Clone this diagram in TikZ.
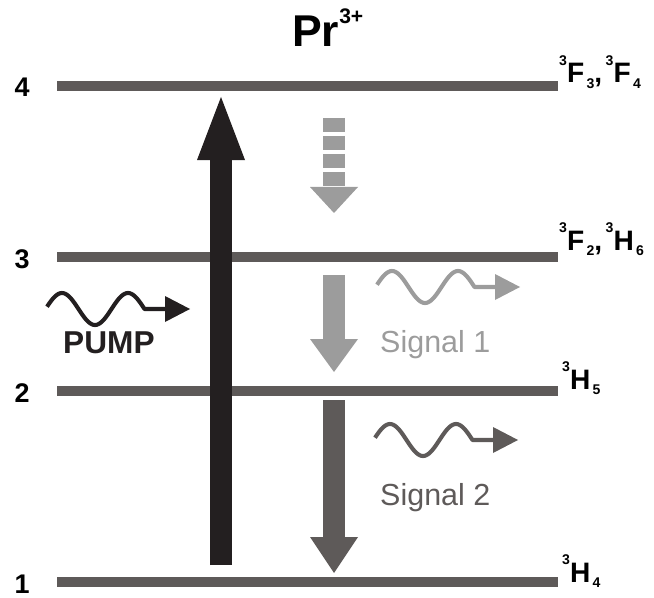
\documentclass[tikz,border=0pt]{standalone}
\usepackage{fontspec}
\setmainfont{Liberation Sans}
\usepackage{tikz}
\usetikzlibrary{arrows.meta,positioning}
\definecolor{levelgray}{HTML}{5E5A59}
\definecolor{pumpblack}{HTML}{231F20}
\definecolor{signallight}{HTML}{9C9C9C}
\tikzstyle{level} = [line width=0.29cm, levelgray]
\tikzstyle{levelnum} = [inner sep=0pt, anchor=base, font=\fontsize{23}{23}\selectfont\bfseries]
\tikzstyle{term} = [inner sep=0pt, anchor=base west, font=\fontsize{24}{24}\selectfont\bfseries]
\tikzstyle{fatarrow} = [line width=0.66cm]
\tikzstyle{signaltext} = [inner sep=0pt, anchor=base west, font=\fontsize{26}{26}\selectfont]
\newcommand{\termsym}[3]{\raisebox{15pt}{\fontsize{12}{12}\selectfont #1}#2\hspace{2pt}\raisebox{-5pt}{\fontsize{12}{12}\selectfont #3}}
\tikzset{photon/.pic={
    \draw[line width=3.5pt, line join=round] plot[domain=0:97.5, samples=60, smooth] (\x,{-16*cos(5.4545*(\x-15))}) -- (118,0);
    \fill (118,-13) -- (143,0) -- (118,13) -- cycle;
}}

\begin{document}
\begin{tikzpicture}[x=0.03cm, y=-0.03cm]
\useasboundingbox (0,0) rectangle (654,598);
% energy levels
\foreach \ly/\num in {86/4, 257/3, 391/2, 582/1} {
    \coordinate (lev\num w) at (57,\ly);
    \coordinate (lev\num e) at (558,\ly);
    \draw[level] (lev\num w) -- (lev\num e);
    \node[levelnum] (num\num) at (22,\ly+11) {\num};
}
\node[inner sep=0pt, anchor=base west, font=\fontsize{38}{38}\selectfont\bfseries] (ion) at (292,47)
    {Pr\raisebox{20pt}{\fontsize{18}{18}\selectfont 3+}};
\node[term] (t4) at (559,83) {\termsym{3}{F}{3},\hspace{3pt}\termsym{3}{F}{4}};
\node[term] (t3) at (559,250) {\termsym{3}{F}{2},\hspace{3pt}\termsym{3}{H}{6}};
\node[term] (t2) at (562,389) {\termsym{3}{H}{5}};
\node[term] (t1) at (562,582) {\termsym{3}{H}{4}};
% transitions
\coordinate (pumpfoot) at (221,565);
\coordinate (pumptip) at (221,97);
\coordinate (decaytop) at (334,118);
\coordinate (decaytip) at (334,213);
\coordinate (sig1top) at (334,275);
\coordinate (sig1tip) at (334,372);
\coordinate (sig2top) at (334,400);
\coordinate (sig2tip) at (334,573);
\draw[fatarrow, pumpblack, -{Triangle[length=1.89cm, width=1.44cm, line width=0pt]}] (pumpfoot) -- (pumptip);
\draw[fatarrow, signallight, dash pattern=on 0.42cm off 0.12cm, -{Triangle[length=0.78cm, width=1.44cm, line width=0pt]}] (decaytop) -- (decaytip);
\draw[fatarrow, signallight, -{Triangle[length=0.99cm, width=1.44cm, line width=0pt]}] (sig1top) -- (sig1tip);
\draw[fatarrow, levelgray, -{Triangle[length=1.08cm, width=1.44cm, line width=0pt]}] (sig2top) -- (sig2tip);
% photons
\pic[pumpblack] at (47,309) {photon};
\pic[signallight] at (377,287) {photon};
\pic[levelgray] at (375,440) {photon};
\node[inner sep=0pt, anchor=base west, font=\fontsize{27}{27}\selectfont\bfseries, pumpblack] (pump) at (63,353) {PUMP};
\node[signaltext, signallight] (s1) at (380,352) {Signal 1};
\node[signaltext, levelgray] (s2) at (380,505) {Signal 2};
\end{tikzpicture}
\end{document}
